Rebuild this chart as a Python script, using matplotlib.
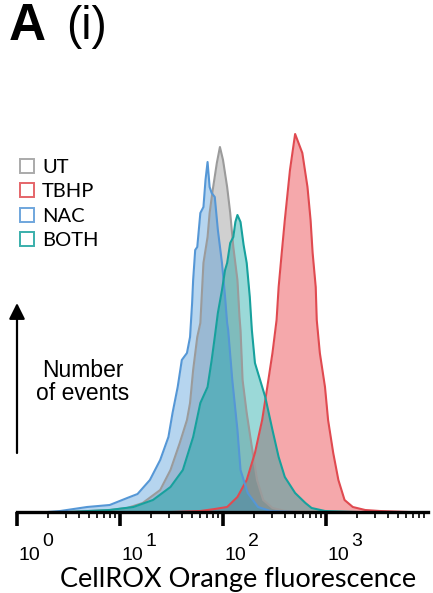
import numpy as np
import matplotlib
matplotlib.use("Agg")
import matplotlib.pyplot as plt
import matplotlib.transforms as mtransforms
from matplotlib.lines import Line2D

# Histogram outlines: log10(fluorescence) and number of events
ut_log = [0.50, 0.90, 1.07, 1.22, 1.39, 1.49, 1.58, 1.65, 1.68, 1.71, 1.75, 1.78,
          1.81, 1.85, 1.87, 1.90, 1.94, 1.97, 2.00, 2.04, 2.07, 2.10, 2.14, 2.16,
          2.17, 2.19, 2.23, 2.28, 2.33, 2.39, 2.48, 2.60, 3.00]
ut_cnt = [0, 2, 4, 9, 22, 42, 69, 92, 109, 142, 175, 189,
          249, 275, 299, 322, 349, 365, 352, 325, 299, 265, 232, 195,
          182, 132, 99, 65, 32, 12, 4, 1, 0]

tbhp_log = [1.50, 1.78, 1.92, 2.04, 2.14, 2.23, 2.31, 2.38, 2.43, 2.48, 2.52, 2.54,
            2.57, 2.60, 2.65, 2.70, 2.77, 2.82, 2.85, 2.87, 2.90, 2.91, 2.94, 2.99,
            3.02, 3.07, 3.12, 3.18, 3.26, 3.38, 3.52, 3.80]
tbhp_cnt = [0, 1, 3, 5, 15, 32, 59, 92, 125, 159, 192, 225,
            259, 292, 342, 378, 359, 325, 292, 259, 225, 192, 159, 125,
            92, 59, 32, 12, 5, 2, 1, 0]

nac_log = [0.30, 0.42, 0.68, 0.90, 1.07, 1.17, 1.29, 1.39, 1.47, 1.51, 1.56, 1.60,
           1.65, 1.68, 1.70, 1.71, 1.73, 1.75, 1.78, 1.81, 1.83, 1.85, 1.87, 1.89,
           1.92, 1.95, 1.99, 2.02, 2.04, 2.05, 2.09, 2.14, 2.17, 2.24, 2.34, 2.46, 2.70]
nac_cnt = [0, 1, 5, 7, 14, 18, 32, 52, 75, 99, 125, 152,
           159, 175, 209, 232, 262, 265, 299, 305, 332, 350, 325, 319,
           315, 282, 249, 215, 189, 182, 132, 82, 42, 19, 5, 1, 0]

both_log = [0.50, 0.90, 1.13, 1.32, 1.49, 1.61, 1.71, 1.78, 1.85, 1.89, 1.92, 1.95,
            1.99, 2.02, 2.04, 2.07, 2.10, 2.12, 2.14, 2.17, 2.20, 2.23, 2.26, 2.28,
            2.31, 2.41, 2.48, 2.54, 2.60, 2.70, 2.80, 2.86, 2.99, 3.30]
both_cnt = [0, 2, 5, 12, 25, 42, 75, 109, 125, 152, 175, 199,
            222, 242, 249, 269, 275, 290, 297, 290, 267, 249, 215, 182,
            149, 115, 82, 55, 35, 19, 9, 4, 1, 0]

# name, x, counts, fill colour, outline colour
series = [
    ("UT", ut_log, ut_cnt, "#8a8a8a", "#9b9b9b"),
    ("TBHP", tbhp_log, tbhp_cnt, "#e6262e", "#e04a50"),
    ("NAC", nac_log, nac_cnt, "#4a98d8", "#5597d6"),
    ("BOTH", both_log, both_cnt, "#06a09e", "#17a19d"),
]

decades = [0, 1, 2, 3]

fig = plt.figure(figsize=(4.33, 5.93), dpi=100)
ax = fig.add_axes([17 / 433, 81 / 593, 411 / 433, 400 / 593])

for name, lg, cnt, fc, ec in series:
    xs = 10 ** np.array(lg)
    ax.fill_between(xs, cnt, 0, color=fc, alpha=0.4, lw=0)
    ax.plot(xs, cnt, color=ec, lw=1.5, solid_joinstyle="round")

ax.set_xscale("log")
ax.set_xlim(1, 10 ** 3.99)
ax.set_ylim(0, 400)

for s in ["top", "right", "left"]:
    ax.spines[s].set_visible(False)
ax.spines["bottom"].set_linewidth(2.4)
ax.spines["bottom"].set_zorder(5)
ax.set_yticks([])

ax.set_xticks([10.0 ** d for d in decades])
ax.set_xticklabels([])
ax.tick_params(axis="x", which="major", direction="out", length=10, width=2.6,
               color="black")
ax.tick_params(axis="x", which="minor", direction="out", length=4, width=1.2,
               color="black")

# decade labels: "10" with a full-size raised exponent
trans = ax.get_xaxis_transform()
for d in decades:
    base = mtransforms.offset_copy(trans, fig=fig, x=1, y=-48, units="dots")
    ax.text(10.0 ** d, 0, "10", transform=base, ha="left", va="baseline",
            fontfamily="Liberation Sans", fontsize=14)
    sup = mtransforms.offset_copy(trans, fig=fig, x=25, y=-34, units="dots")
    ax.text(10.0 ** d, 0, str(d), transform=sup, ha="left", va="baseline",
            fontfamily="Liberation Sans", fontsize=14)

fig.text(238 / 433, 14 / 593, "CellROX Orange fluorescence", ha="center",
         va="center", fontfamily="Lato", fontsize=19.5)

fig.text(83 / 433, 1 - 382 / 593, "Number\nof events", ha="center", va="center",
         fontfamily="Liberation Sans", fontsize=16.5, linespacing=1.05)

ax.annotate("", xy=(17 / 433, 1 - 303 / 593), xytext=(17 / 433, 1 - 453 / 593),
            xycoords="figure fraction", textcoords="figure fraction",
            arrowprops=dict(arrowstyle="-|>", lw=1.6, mutation_scale=24,
                            color="black", shrinkA=0, shrinkB=0))

fig.text(9 / 433, 1 - 27 / 593, "A", ha="left", va="center",
         fontfamily="Liberation Sans", fontweight="bold", fontsize=37)
fig.text(66 / 433, 1 - 27 / 593, "(i)", ha="left", va="center",
         fontfamily="Liberation Sans", fontsize=33)

handles = [Line2D([], [], marker="s", linestyle="none", markersize=9.5,
                  markerfacecolor="white", markeredgecolor=ec, markeredgewidth=1.4,
                  alpha=0.85)
           for _, _, _, _, ec in series]
leg = fig.legend(handles, [s[0] for s in series], loc="upper left",
                 bbox_to_anchor=(19 / 433, 1 - 159 / 593), frameon=False,
                 handlelength=0.8, handletextpad=0.35, labelspacing=0.36,
                 borderaxespad=0, borderpad=0,
                 prop={"family": "Lato", "size": 14.5})

fig.savefig("out.png", dpi=100)
